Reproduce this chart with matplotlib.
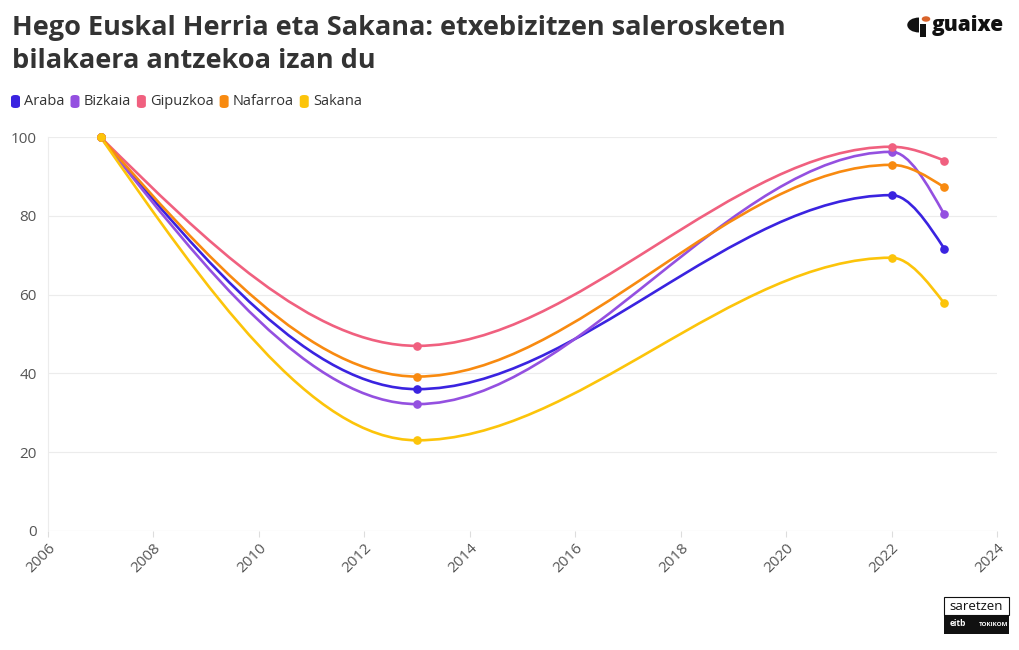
import matplotlib
matplotlib.use("Agg")
import matplotlib.pyplot as plt
import numpy as np
from matplotlib.path import Path
from matplotlib.patches import PathPatch, FancyBboxPatch, Rectangle, Circle, Wedge

# data (index, 2007 = 100)
years = [2007, 2013, 2022, 2023]
araba = [100, 36.0, 85.3, 71.7]
bizkaia = [100, 32.2, 96.3, 80.4]
gipuzkoa = [100, 47.0, 97.6, 94.1]
nafarroa = [100, 39.2, 93.0, 87.3]
sakana = [100, 23.0, 69.4, 57.8]

names = ["Araba", "Bizkaia", "Gipuzkoa", "Nafarroa", "Sakana"]
series = [araba, bizkaia, gipuzkoa, nafarroa, sakana]
colors = ["#3a23e0", "#9450e0", "#f0607f", "#f88a10", "#fcc40a"]

plt.rcParams['font.family'] = ['Open Sans', 'DejaVu Sans']


def monotone_path(x, y):
    # same control points as d3.curveMonotoneX
    x = np.asarray(x, float)
    y = np.asarray(y, float)
    n = len(x)
    h = np.diff(x)
    s = np.diff(y) / h
    t = np.zeros(n)
    for i in range(1, n - 1):
        p = (s[i - 1] * h[i] + s[i] * h[i - 1]) / (h[i - 1] + h[i])
        t[i] = (np.sign(s[i - 1]) + np.sign(s[i])) * min(abs(s[i - 1]), abs(s[i]), 0.5 * abs(p))
    t[0] = (3 * s[0] - t[1]) / 2
    t[-1] = (3 * s[-1] - t[-2]) / 2
    verts = [(x[0], y[0])]
    codes = [Path.MOVETO]
    for i in range(n - 1):
        dx = h[i] / 3
        verts += [(x[i] + dx, y[i] + dx * t[i]),
                  (x[i + 1] - dx, y[i + 1] - dx * t[i + 1]),
                  (x[i + 1], y[i + 1])]
        codes += [Path.CURVE4] * 3
    return Path(verts, codes)


fig = plt.figure(figsize=(10.2, 6.5), dpi=100)
ax = fig.add_axes([48 / 1020, 1 - 530.8 / 650, 949 / 1020, (530.8 - 137.3) / 650])

for vals, c in zip(series, colors):
    ax.add_patch(PathPatch(monotone_path(years, vals), facecolor="none",
                           edgecolor=c, lw=1.9, capstyle="round", zorder=3))
    ax.plot(years, vals, "o", color=c, ms=5.2, zorder=4, clip_on=False)

ax.set_xlim(2006, 2024)
ax.set_ylim(0, 100)
ax.set_xticks(range(2006, 2025, 2))
ax.set_yticks(range(0, 101, 20))
ax.grid(axis="y", color="#ececec", lw=0.8)
ax.set_axisbelow(True)
for sp in ["top", "right", "bottom"]:
    ax.spines[sp].set_visible(False)
ax.spines["left"].set_color("#ececec")
ax.tick_params(axis="y", length=0, pad=8, labelsize=11, labelcolor="#555555")
ax.tick_params(axis="x", length=4, color="#dddddd", pad=3, labelsize=11, labelcolor="#555555")
for lab in ax.get_xticklabels():
    lab.set_rotation(45)
    lab.set_ha("right")
    lab.set_rotation_mode("anchor")
ax.axhline(0, color="#ececec", lw=0.8, zorder=1)

# title
fig.text(12 / 1020, 1 - 28 / 650, "Hego Euskal Herria eta Sakana: etxebizitzen salerosketen",
         fontsize=19.5, fontweight="bold", color="#333333", va="center")
fig.text(12 / 1020, 1 - 61 / 650, "bilakaera antzekoa izan du",
         fontsize=19.5, fontweight="bold", color="#333333", va="center")

# legend
lx = 11
for name, c in zip(names, colors):
    fig.patches.append(FancyBboxPatch((lx / 1020, 1 - 108 / 650), 9 / 1020, 13 / 650,
                                      boxstyle="round,pad=0,rounding_size=0.004",
                                      transform=fig.transFigure, facecolor=c, edgecolor="none"))
    t = fig.text((lx + 13) / 1020, 1 - 101.5 / 650, name, fontsize=10.5, color="#333333", va="center")
    fig.canvas.draw()
    bb = t.get_window_extent()
    lx = bb.x1 + 6

# guaixe logo (approximation)
fig.patches.append(Wedge((919 / 1020, 1 - 25 / 650), 0.0115, 90, 270, transform=fig.transFigure,
                         facecolor="#111111"))
fig.patches.append(Rectangle((920 / 1020, 1 - 37 / 650), 6 / 1020, 13 / 650, transform=fig.transFigure,
                             facecolor="#111111"))
fig.patches.append(Circle((926 / 1020, 1 - 19 / 650), 0.0042, transform=fig.transFigure,
                          facecolor="#d9632a"))
fig.text(932 / 1020, 1 - 25 / 650, "guaixe", fontsize=15, fontweight="heavy", color="#111111", va="center")

# saretzen logo (approximation)
fig.patches.append(Rectangle((944 / 1020, 1 - 615 / 650), 65 / 1020, 18 / 650, transform=fig.transFigure,
                             facecolor="white", edgecolor="#111111", lw=0.8))
fig.text(976 / 1020, 1 - 606 / 650, "saretzen", fontsize=9.5, color="#111111", ha="center", va="center")
fig.patches.append(Rectangle((944 / 1020, 1 - 634 / 650), 65 / 1020, 19 / 650, transform=fig.transFigure,
                             facecolor="#111111"))
fig.text(958 / 1020, 1 - 624 / 650, "eitb", fontsize=6, color="white", ha="center", va="center",
         fontweight="bold")
fig.text(994 / 1020, 1 - 624 / 650, "TOKIKOM", fontsize=4.5, color="white", ha="center", va="center",
         fontweight="bold")

fig.savefig("out.png", dpi=100, facecolor="white")
